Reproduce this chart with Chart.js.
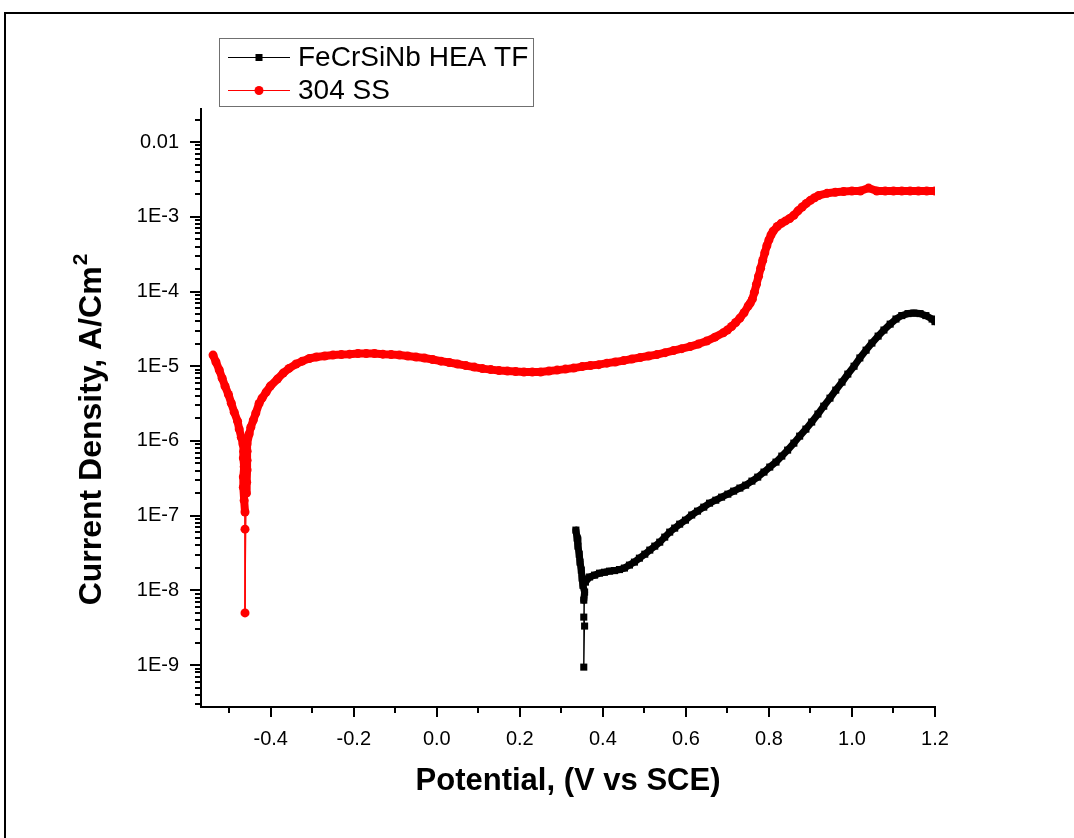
<!DOCTYPE html>
<html lang="en">
<head>
<meta charset="UTF-8">
<title>Potentiodynamic polarization</title>
<script src="https://cdn.jsdelivr.net/npm/chart.js@4"></script>
<style>
  html, body { margin: 0; padding: 0; background: #fff; overflow: hidden; }
  #frame { position: absolute; left: 4px; top: 12px; width: 1200px; height: 1000px;
           border-left: 2px solid #000; border-top: 2px solid #000; }
  #polarChart { position: absolute; left: 0; top: 0; }
</style>
</head>
<body>
<div id="frame"></div>
<canvas id="polarChart" width="1074" height="838"></canvas>
<script>
// FeCrSiNb HEA thin film: potential (V vs SCE) and current density (A/cm2)
const heaPotential = [
  0.335, 0.338, 0.340, 0.343, 0.345, 0.348, 0.350, 0.352, 0.356, 0.354,
  0.356, 0.354, 0.354, 0.358, 0.368, 0.380, 0.392, 0.404, 0.416, 0.428,
  0.440, 0.452, 0.464, 0.476, 0.488, 0.501, 0.513, 0.525, 0.537, 0.549,
  0.561, 0.573, 0.585, 0.599, 0.614, 0.628, 0.643, 0.657, 0.672, 0.686,
  0.701, 0.715, 0.730, 0.744, 0.759, 0.773, 0.788, 0.802, 0.817, 0.831,
  0.845, 0.860, 0.874, 0.889, 0.903, 0.918, 0.932, 0.947, 0.961, 0.976,
  0.990, 1.005, 1.019, 1.034, 1.048, 1.063, 1.077, 1.092, 1.106, 1.120,
  1.135, 1.149, 1.164, 1.178, 1.193, 1.200
];
const heaCurrent = [
  6.41e-8, 5.01e-8, 3.91e-8, 3.05e-8, 2.39e-8, 1.87e-8, 1.46e-8, 1.17e-8, 9.5e-9, 7.4e-9,
  3.33e-9, 9.4e-10, 4.39e-9, 1.29e-8, 1.51e-8, 1.60e-8, 1.70e-8, 1.75e-8, 1.81e-8, 1.84e-8,
  1.90e-8, 1.99e-8, 2.18e-8, 2.39e-8, 2.70e-8, 3.05e-8, 3.46e-8, 3.91e-8, 4.42e-8, 5.16e-8,
  6.02e-8, 6.81e-8, 7.70e-8, 8.71e-8, 1.02e-7, 1.15e-7, 1.30e-7, 1.47e-7, 1.61e-7, 1.77e-7,
  1.94e-7, 2.13e-7, 2.34e-7, 2.56e-7, 2.90e-7, 3.28e-7, 3.83e-7, 4.47e-7, 5.21e-7, 6.27e-7,
  7.54e-7, 9.35e-7, 1.16e-6, 1.44e-6, 1.79e-6, 2.29e-6, 2.92e-6, 3.74e-6, 4.79e-6, 6.13e-6,
  7.85e-6, 1.00e-5, 1.29e-5, 1.64e-5, 2.04e-5, 2.53e-5, 3.05e-5, 3.66e-5, 4.28e-5, 4.76e-5,
  5.06e-5, 5.14e-5, 5.06e-5, 4.76e-5, 4.28e-5, 3.95e-5
];

// 304 stainless steel
const ssPotential = [
  -0.539, -0.532, -0.524, -0.517, -0.510, -0.502, -0.495, -0.488, -0.480, -0.476,
  -0.471, -0.467, -0.465, -0.466, -0.464, -0.466, -0.466, -0.464, -0.462, -0.462,
  -0.462, -0.459, -0.458, -0.457, -0.457, -0.457, -0.457, -0.452, -0.448, -0.442,
  -0.436, -0.428, -0.421, -0.411, -0.401, -0.384, -0.370, -0.356, -0.339, -0.324,
  -0.307, -0.29, -0.27, -0.25, -0.23, -0.21, -0.19, -0.17, -0.15, -0.13,
  -0.11, -0.09, -0.07, -0.05, -0.03, -0.01, 0.01, 0.03, 0.05, 0.07,
  0.09, 0.11, 0.13, 0.15, 0.17, 0.19, 0.21, 0.23, 0.25, 0.27,
  0.29, 0.31, 0.33, 0.35, 0.37, 0.39, 0.41, 0.43, 0.45, 0.47,
  0.49, 0.51, 0.53, 0.55, 0.57, 0.59, 0.61, 0.63, 0.65, 0.67,
  0.69, 0.70, 0.71, 0.72, 0.73, 0.74, 0.75, 0.755, 0.76, 0.765,
  0.77, 0.775, 0.78, 0.785, 0.79, 0.795, 0.80, 0.805, 0.81, 0.82,
  0.83, 0.84, 0.85, 0.86, 0.87, 0.88, 0.89, 0.90, 0.91, 0.92,
  0.94, 0.96, 0.98, 1.00, 1.02, 1.04, 1.06, 1.08, 1.10, 1.12,
  1.14, 1.16, 1.18, 1.20
];
const ssCurrent = [
  1.41e-5, 1.14e-5, 8.9e-6, 6.9e-6, 5.4e-6, 4.2e-6, 3.2e-6, 2.43e-6, 1.84e-6, 1.44e-6,
  1.12e-6, 9.1e-7, 7.3e-7, 5.9e-7, 4.5e-7, 3.3e-7, 2.4e-7, 1.6e-7, 1.12e-7, 6.6e-8,
  5.0e-9, 2.0e-7, 2.8e-7, 4.1e-7, 5.5e-7, 7.3e-7, 9.1e-7, 1.24e-6, 1.53e-6, 1.90e-6,
  2.36e-6, 3.18e-6, 3.74e-6, 4.51e-6, 5.42e-6, 6.73e-6, 8.10e-6, 9.35e-6, 1.07e-5, 1.17e-5,
  1.27e-5, 1.33e-5, 1.37e-5, 1.41e-5, 1.43e-5, 1.45e-5, 1.48e-5, 1.48e-5, 1.48e-5, 1.45e-5,
  1.43e-5, 1.41e-5, 1.37e-5, 1.33e-5, 1.29e-5, 1.23e-5, 1.17e-5, 1.12e-5, 1.07e-5, 1.02e-5,
  9.73e-6, 9.29e-6, 9.01e-6, 8.74e-6, 8.61e-6, 8.48e-6, 8.35e-6, 8.35e-6, 8.35e-6, 8.61e-6,
  8.87e-6, 9.15e-6, 9.44e-6, 9.89e-6, 1.02e-5, 1.05e-5, 1.10e-5, 1.14e-5, 1.19e-5, 1.25e-5,
  1.31e-5, 1.37e-5, 1.43e-5, 1.52e-5, 1.62e-5, 1.72e-5, 1.83e-5, 1.98e-5, 2.17e-5, 2.45e-5,
  2.80e-5, 3.05e-5, 3.40e-5, 3.85e-5, 4.40e-5, 5.20e-5, 6.40e-5, 7.00e-5, 7.90e-5, 9.80e-5,
  1.25e-4, 1.60e-4, 2.05e-4, 2.60e-4, 3.30e-4, 4.10e-4, 4.90e-4, 5.70e-4, 6.40e-4, 7.40e-4,
  8.20e-4, 8.80e-4, 9.50e-4, 1.05e-3, 1.20e-3, 1.35e-3, 1.51e-3, 1.66e-3, 1.80e-3, 1.93e-3,
  2.06e-3, 2.13e-3, 2.18e-3, 2.21e-3, 2.21e-3, 2.42e-3, 2.21e-3, 2.21e-3, 2.21e-3, 2.21e-3,
  2.21e-3, 2.21e-3, 2.21e-3, 2.21e-3
];

// axis ticks
const xMajorTicks = [-0.4, -0.2, 0.0, 0.2, 0.4, 0.6, 0.8, 1.0, 1.2];
const xTickLabels = ['-0.4', '-0.2', '0.0', '0.2', '0.4', '0.6', '0.8', '1.0', '1.2'];
const xMinorTicks = [-0.5, -0.3, -0.1, 0.1, 0.3, 0.5, 0.7, 0.9, 1.1];
const yDecades = [1e-9, 1e-8, 1e-7, 1e-6, 1e-5, 1e-4, 1e-3, 1e-2];
const yTickLabels = ['1E-9', '1E-8', '1E-7', '1E-6', '1E-5', '1E-4', '1E-3', '0.01'];

const FONT = "'Liberation Sans', Arial, sans-serif";
const X_MIN = -0.568, X_MAX = 1.2;
const Y_MIN = 2.75e-10, Y_MAX = 0.0277;

function toPoints(xs, ys) {
  return xs.map((v, i) => ({ x: v, y: ys[i] }));
}

// dense runs read as a thick band, long jumps stay hairline
function bandWidth(thick) {
  return ctx => Math.hypot(ctx.p1.x - ctx.p0.x, ctx.p1.y - ctx.p0.y) > 14 ? 1 : thick;
}

// tick marks: long at labelled values, short in between
const tickMarks = {
  id: 'tickMarks',
  afterDraw(chart) {
    const { ctx, chartArea, scales: { x, y } } = chart;
    ctx.save();
    ctx.strokeStyle = '#000';
    ctx.lineWidth = 2;
    ctx.beginPath();
    x.ticks.forEach(t => {
      const px = Math.round(x.getPixelForValue(t.value));
      ctx.moveTo(px, chartArea.bottom);
      ctx.lineTo(px, chartArea.bottom + (t.big ? 10 : 6));
    });
    y.ticks.forEach(t => {
      const py = Math.round(y.getPixelForValue(t.value));
      ctx.moveTo(chartArea.left, py);
      ctx.lineTo(chartArea.left - (t.big ? 11 : 6), py);
    });
    ctx.stroke();
    ctx.restore();
  }
};

// rotated y title with a raised "2"
const yTitle = {
  id: 'yTitle',
  afterDraw(chart) {
    const { ctx, chartArea } = chart;
    const main = 'Current Density, A/Cm';
    const sup = '2';
    ctx.save();
    ctx.translate(90, (chartArea.top + chartArea.bottom) / 2 + 22);
    ctx.rotate(-Math.PI / 2);
    ctx.fillStyle = '#000';
    ctx.textBaseline = 'alphabetic';
    ctx.font = 'bold 32px ' + FONT;
    const w1 = ctx.measureText(main).width;
    ctx.font = 'bold 21px ' + FONT;
    const w2 = ctx.measureText(sup).width;
    const x0 = -(w1 + w2) / 2;
    ctx.font = 'bold 32px ' + FONT;
    ctx.fillText(main, x0, 11);
    ctx.font = 'bold 21px ' + FONT;
    ctx.fillText(sup, x0 + w1 + 1, -3);
    ctx.restore();
  }
};

// boxed legend above the plot, line sample with marker in the middle
const boxLegend = {
  id: 'boxLegend',
  afterDraw(chart) {
    const { ctx, chartArea } = chart;
    const left = chartArea.left + 18;
    const top = chartArea.top - 71;
    ctx.save();
    ctx.strokeStyle = '#707070';
    ctx.lineWidth = 1;
    ctx.strokeRect(left + 0.5, top + 0.5, 314, 68);
    ctx.font = '28px ' + FONT;
    ctx.textBaseline = 'middle';
    chart.data.datasets.forEach((ds, i) => {
      const cy = top + 19 + i * 33;
      const mx = left + 40;
      ctx.strokeStyle = ds.borderColor;
      ctx.lineWidth = 1;
      ctx.beginPath();
      ctx.moveTo(left + 9, cy + 0.5);
      ctx.lineTo(left + 71, cy + 0.5);
      ctx.stroke();
      ctx.fillStyle = ds.borderColor;
      if (ds.pointStyle === 'rect') {
        ctx.fillRect(mx - 3.5, cy - 3, 7, 7);
      } else {
        ctx.beginPath();
        ctx.arc(mx, cy + 0.5, 4.5, 0, Math.PI * 2);
        ctx.fill();
      }
      ctx.fillStyle = '#000';
      ctx.fillText(ds.label, left + 79, cy + 1);
    });
    ctx.restore();
  }
};

new Chart(document.getElementById('polarChart'), {
  type: 'line',
  data: {
    datasets: [
      {
        label: 'FeCrSiNb HEA TF',
        data: toPoints(heaPotential, heaCurrent),
        borderColor: '#000000',
        backgroundColor: '#000000',
        borderWidth: 7,
        borderJoinStyle: 'round',
        borderCapStyle: 'round',
        segment: { borderWidth: bandWidth(7) },
        pointStyle: 'rect',
        pointRadius: 5,
        pointBorderWidth: 0
      },
      {
        label: '304 SS',
        data: toPoints(ssPotential, ssCurrent),
        borderColor: '#ff0000',
        backgroundColor: '#ff0000',
        borderWidth: 8,
        borderJoinStyle: 'round',
        borderCapStyle: 'round',
        segment: { borderWidth: bandWidth(8) },
        pointStyle: 'circle',
        pointRadius: 4.5,
        pointBorderWidth: 0
      }
    ]
  },
  options: {
    responsive: false,
    animation: false,
    devicePixelRatio: 1,
    events: [],
    layout: { padding: { top: 109, right: 139, bottom: 0, left: 0 } },
    plugins: { legend: { display: false }, tooltip: { enabled: false } },
    scales: {
      x: {
        type: 'linear',
        min: X_MIN,
        max: X_MAX,
        bounds: 'data',
        border: { display: true, color: '#000', width: 2 },
        grid: { display: false, drawTicks: false },
        afterBuildTicks: scale => {
          const major = xMajorTicks.map((v, i) => ({ value: v, big: true, text: xTickLabels[i] }));
          const minor = xMinorTicks.map(v => ({ value: v, big: false, text: '' }));
          scale.ticks = major.concat(minor).sort((a, b) => a.value - b.value);
        },
        afterFit: scale => { scale.height = 131; },
        ticks: {
          autoSkip: false,
          maxRotation: 0,
          padding: 20,
          color: '#000',
          font: { family: FONT, size: 20 },
          callback: (value, index, ticks) => ticks[index].text
        },
        title: {
          display: true,
          text: 'Potential, (V vs SCE)',
          color: '#000',
          font: { family: FONT, size: 31, weight: 'bold' },
          padding: { top: 0, bottom: 38 }
        }
      },
      y: {
        type: 'logarithmic',
        min: Y_MIN,
        max: Y_MAX,
        bounds: 'data',
        border: { display: true, color: '#000', width: 2 },
        grid: { display: false, drawTicks: false },
        afterBuildTicks: scale => {
          const list = [];
          [1e-10].concat(yDecades).forEach(d => {
            for (let m = 1; m <= 9; m++) {
              const v = m * d;
              if (v < Y_MIN || v > Y_MAX) continue;
              const k = m === 1 ? yDecades.indexOf(d) : -1;
              list.push({ value: v, big: k >= 0, text: k >= 0 ? yTickLabels[k] : '' });
            }
          });
          scale.ticks = list;
        },
        afterFit: scale => { scale.width = 201; },
        ticks: {
          autoSkip: false,
          padding: 22,
          color: '#000',
          font: { family: FONT, size: 20 },
          callback: (value, index, ticks) => ticks[index].text
        },
        title: { display: false }
      }
    }
  },
  plugins: [tickMarks, yTitle, boxLegend]
});
</script>
</body>
</html>
